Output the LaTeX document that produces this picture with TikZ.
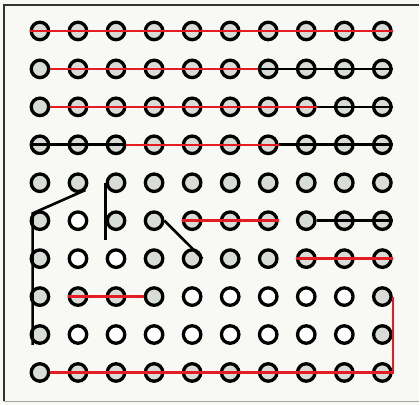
\documentclass[tikz,border=0pt]{standalone}
\usepackage{tikz}
\usetikzlibrary{calc}
\definecolor{board}{RGB}{248,248,245}
\definecolor{pad}{RGB}{216,220,214}
\definecolor{trace}{RGB}{228,28,36}

\begin{document}
\begin{tikzpicture}[
    x=1pt, y=-1pt,
    hole/.style={circle, draw, line width=3.3pt, fill=pad, minimum size=17.5pt, inner sep=0pt},
    open hole/.style args={#1/#2}{hole #1-#2/.style={fill=white}},
    open hole/.list={6/2,7/2,7/3,8/5,8/6,8/7,8/8,8/9,9/2,9/3,9/4,9/5,9/6,9/7,9/8,9/9},
    redwire/.style={draw=trace, line width=2.4pt},
    wire/.style={draw=black, line width=2.6pt}
]
\fill[board] (0,0) rectangle (420,405);
\draw[line width=1.2pt, black!80] (4,402) -- (4,5) -- (420,5);
\draw[line width=0.8pt, black!35] (4,402) -- (420,402);

\foreach \r in {1,...,10}
  \foreach \c in {1,...,10}
    \node[hole, hole \r-\c/.try] (n-\r-\c) at ({40+38.1*(\c-1)}, {31+38*(\r-1)}) {};

\draw[redwire] (n-1-1.west) -- (n-1-10.east);
\draw[redwire] (n-2-1.east) -- (n-2-7.west);
\draw[wire] (n-2-7.west) -- (n-2-10.east);
\draw[redwire] (n-3-1.east) -- (n-3-8.east);
\draw[wire] (n-3-8.east) -- (n-3-10.east);
\draw[wire] (n-4-1.west) -- (n-4-3.east);
\draw[redwire] (n-4-3.east) -- (n-4-7.east);
\draw[wire] (n-4-7.east) -- (n-4-10.east);

\draw[wire] (n-5-2.south east) -- (n-6-1.north west) -- (n-6-1.north west |- n-9-1.south);
\draw[wire] (n-5-3.west) -- ($(n-6-3.west)!0.5!(n-7-3.west)$);
\draw[wire] (n-6-4.east) -- (n-7-5.east);

\draw[redwire] (n-6-5.west) -- (n-6-7.east);
\draw[wire] (n-6-8.east) -- (n-6-10.east);
\draw[redwire] (n-7-8.west) -- (n-7-10.east);
\draw[redwire] (n-8-2.west) -- (n-8-4.west);
\draw[redwire] (n-10-1.east) -- (n-10-10.east) -- (n-8-10.east);
\end{tikzpicture}
\end{document}
